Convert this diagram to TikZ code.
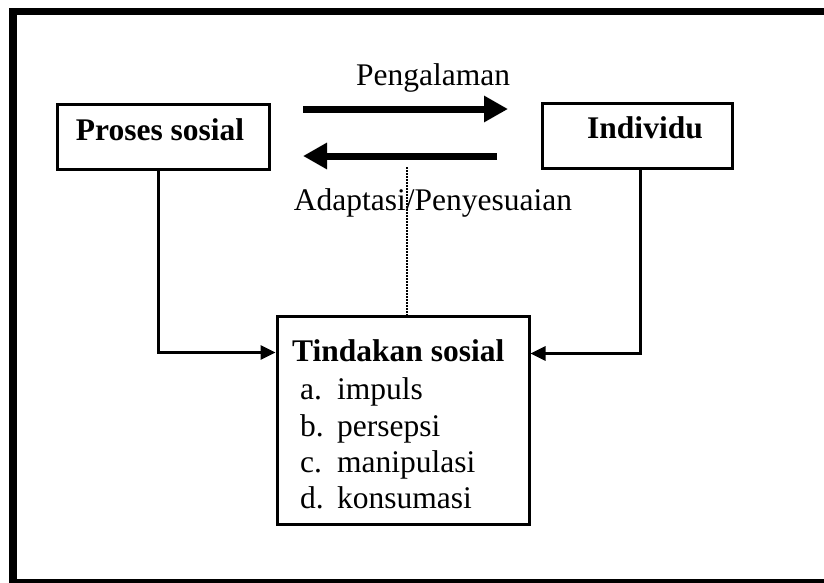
\documentclass[tikz,border=0pt]{standalone}
\usepackage{fontspec}
\setmainfont{Liberation Serif}
\usetikzlibrary{arrows.meta,calc}

\begin{document}
\begin{tikzpicture}[x=1pt,y=-1pt,
  txt/.style={font=\fontsize{31.5}{36}\selectfont, inner sep=0pt},
  box/.style={draw, line width=3pt, inner sep=0pt, font=\fontsize{31.5}{36}\selectfont\bfseries,
              text height=22pt, text depth=16pt},
  conn/.style={line width=3pt, -{Triangle[length=15pt,width=14pt]}},
  bigarrow/.style={line width=7pt, -{Triangle[length=24pt,width=25pt]}},
  guide/.style={line width=1.5pt, dash pattern=on 1.5pt off 1.5pt}]
  \useasboundingbox (0,0) rectangle (824,582);
  \clip (0,0) rectangle (824,582);

  % outer frame
  \draw[line width=7.5pt] (13,11.5) rectangle (832,582.5);

  % boxes
  \node[box, minimum width=212pt, minimum height=65pt] (proses) at (163,137) {\hspace*{-6pt}Proses sosial};
  \node[box, minimum width=190pt, minimum height=65pt] (individu) at (637.5,135.5) {\hspace*{15pt}Individu};
  \node[box, minimum width=252pt, minimum height=208pt] (tindakan) at (403,420) {};

  % contents of the action box
  \node[txt, anchor=base west, font=\fontsize{31.5}{36}\selectfont\bfseries] (tjudul) at (292,361) {Tindakan sosial};
  \node[txt, anchor=base west] (ta) at (300,399) {\makebox[37pt][l]{a.}impuls};
  \node[txt, anchor=base west] (tb) at (300,436) {\makebox[37pt][l]{b.}persepsi};
  \node[txt, anchor=base west] (tc) at (300,472) {\makebox[37pt][l]{c.}manipulasi};
  \node[txt, anchor=base west] (td) at (300,508) {\makebox[37pt][l]{d.}konsumasi};

  % exchange arrows between the two upper boxes
  \coordinate (p1) at (303,109);
  \coordinate (p2) at (508,109);
  \coordinate (a1) at (497,156);
  \coordinate (a2) at (303,156);
  \draw[bigarrow] (p1) -- (p2);
  \draw[bigarrow] (a1) -- (a2);
  \node[txt, anchor=base] (pengalaman) at (433,85) {Pengalaman};
  \node[txt, anchor=base] (adaptasi) at (433,210) {Adaptasi/Penyesuaian};

  % dotted guide down to the action box
  \coordinate (g1) at (407,167);
  \draw[guide] (g1) -- (g1 |- tindakan.north);

  % connectors into the action box
  \draw[conn] ($(proses.south)+(-5,0)$) |- ($(tindakan.north west)+(0,38)$);
  \draw[conn] ($(individu.south)+(2.5,0)$) |- ($(tindakan.north east)+(0,39)$);
\end{tikzpicture}
\end{document}
